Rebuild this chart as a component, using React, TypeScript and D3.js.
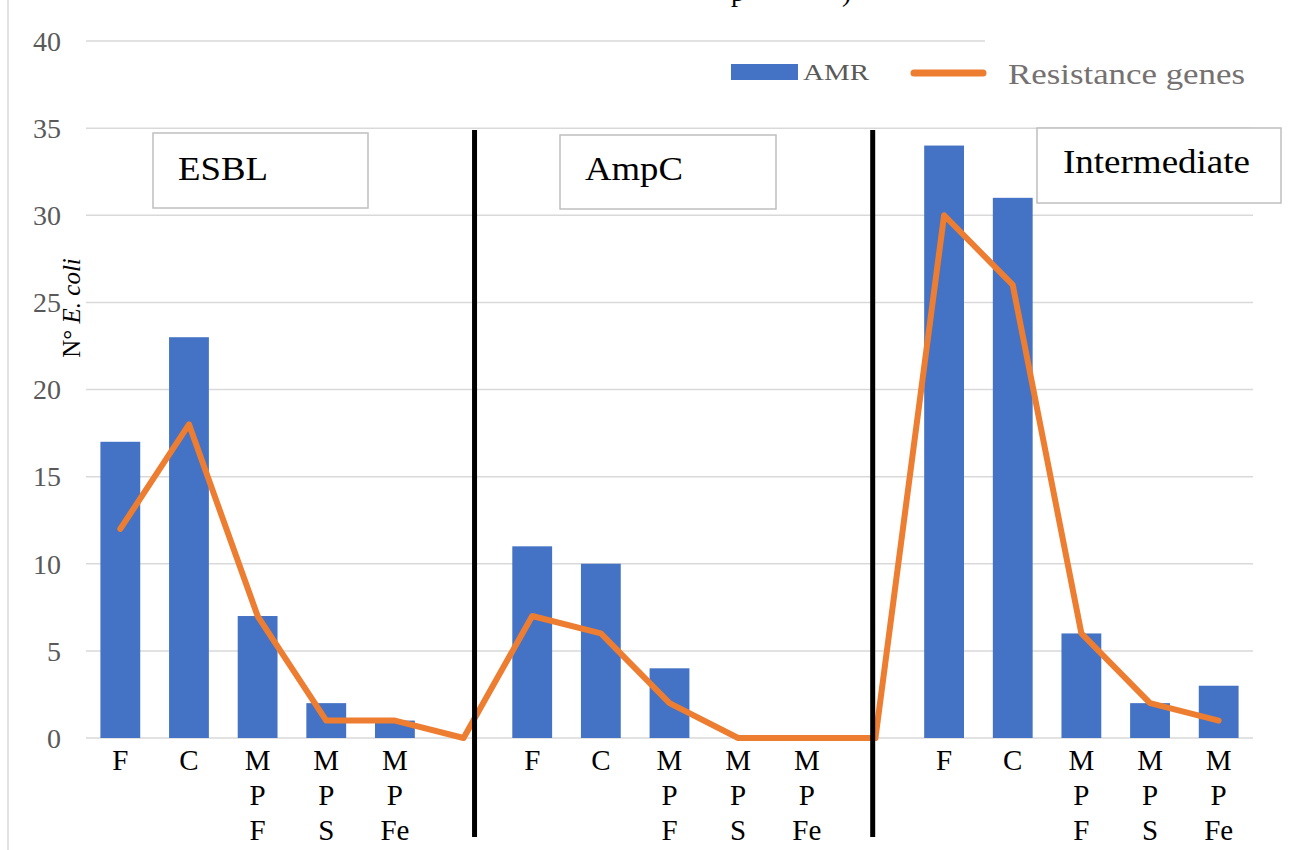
import React from "react";
import * as d3 from "d3";

// Category slots: three groups of five, separated by an empty slot
const groups = ["ESBL", "AmpC", "Intermediate"];
const slotLabels: string[][] = [
  ["F"], ["C"], ["M", "P", "F"], ["M", "P", "S"], ["M", "P", "Fe"], [],
  ["F"], ["C"], ["M", "P", "F"], ["M", "P", "S"], ["M", "P", "Fe"], [],
  ["F"], ["C"], ["M", "P", "F"], ["M", "P", "S"], ["M", "P", "Fe"],
];
const amrValues: (number | null)[] = [17, 23, 7, 2, 1, null, 11, 10, 4, 0, 0, null, 34, 31, 6, 2, 3];
const geneValues: number[] = [12, 18, 7, 1, 1, 0, 7, 6, 2, 0, 0, 0, 30, 26, 6, 2, 1];
const yTicks = [0, 5, 10, 15, 20, 25, 30, 35, 40];
const separatorSlots = [5, 11];

const W = 1291;
const H = 850;
const BLUE = "#4472C4";
const ORANGE = "#ED7D31";
const GRID = "#d9d9d9";
const SERIF = "Liberation Serif, DejaVu Serif, serif";
const font = { fontFamily: SERIF };

export default function App() {
  const slots = d3.range(slotLabels.length).map(String);
  const x = d3.scaleBand<string>().domain(slots).range([86, 1253]).paddingInner(0.42).paddingOuter(0.21);
  const y = d3.scaleLinear().domain([0, 40]).range([738, 41]);
  const cx = (i: number) => (x(String(i)) as number) + x.bandwidth() / 2;
  const step = x.step();

  const line = d3
    .line<number>()
    .x((_, i) => cx(i))
    .y((d) => y(d));

  // separator positions relative to the empty slots
  const sepX = [cx(separatorSlots[0]) + step * 0.16, cx(separatorSlots[1]) - step * 0.04];

  const boxes = [
    { label: groups[0], x0: 153, y0: 133, w: 215, h: 75, tx: 178, ty: 180, tl: 90 },
    { label: groups[1], x0: 560, y0: 135, w: 216, h: 74, tx: 585, ty: 180, tl: 98 },
    { label: groups[2], x0: 1037, y0: 128, w: 244, h: 75, tx: 1063, ty: 173, tl: 187 },
  ];

  return (
    <svg
      width={W}
      height={H}
      style={{ position: "absolute", left: 0, top: 0, background: "#fff", fontFamily: SERIF }}
    >
      <rect x={0} y={0} width={W} height={H} fill="#fff" />
      <line x1={8} x2={8} y1={0} y2={H} stroke={GRID} strokeWidth={1.5} />

      {/* title fragment running off the top edge */}
      <text x={731} y={1} fontSize={28} fill="#000" style={font}>p</text>
      <text x={842} y={1} fontSize={28} fill="#000" style={font}>)</text>

      {/* gridlines and y tick labels */}
      {yTicks.map((t) => (
        <g key={t}>
          <line x1={86} x2={t === 40 ? 985 : 1253} y1={y(t)} y2={y(t)} stroke={GRID} strokeWidth={1.5} />
          <text x={61} y={y(t)} dy="0.35em" textAnchor="end" fontSize={28} fill="#595959" style={font}>
            {t}
          </text>
        </g>
      ))}

      {/* y axis title */}
      <text
        transform={`translate(80,${308}) rotate(-90)`}
        textAnchor="middle"
        fontSize={25}
        fill="#000"
        style={font}
      >
        N° <tspan fontStyle="italic">E. coli</tspan>
      </text>

      {/* AMR bars */}
      {amrValues.map((v, i) =>
        v === null ? null : (
          <rect
            key={i}
            x={x(String(i))}
            y={y(v)}
            width={x.bandwidth()}
            height={y(0) - y(v)}
            fill={BLUE}
          />
        )
      )}

      {/* resistance genes line */}
      <path
        d={line(geneValues) || ""}
        fill="none"
        stroke={ORANGE}
        strokeWidth={6}
        strokeLinejoin="round"
        strokeLinecap="round"
      />

      {/* group separators */}
      {sepX.map((sx, i) => (
        <line key={i} x1={sx} x2={sx} y1={130} y2={837} stroke="#000" strokeWidth={5} />
      ))}

      {/* group label boxes */}
      {boxes.map((b) => (
        <g key={b.label}>
          <rect x={b.x0} y={b.y0} width={b.w} height={b.h} fill="#fff" stroke="#bfbfbf" strokeWidth={1.5} />
          <text
            x={b.tx}
            y={b.ty}
            fontSize={34}
            fill="#000"
            textLength={b.tl}
            lengthAdjust="spacingAndGlyphs"
            style={font}
          >
            {b.label}
          </text>
        </g>
      ))}

      {/* category labels */}
      {slotLabels.map((lines, i) =>
        lines.map((s, j) => (
          <text
            key={`${i}-${j}`}
            x={cx(i)}
            y={770 + j * 35}
            textAnchor="middle"
            fontSize={29}
            fill="#000"
            style={font}
          >
            {s}
          </text>
        ))
      )}

      {/* legend */}
      <g>
        <rect x={731} y={64} width={67} height={16} fill={BLUE} />
        <text x={803} y={80} fontSize={23} fill="#595959" textLength={66} lengthAdjust="spacingAndGlyphs" style={font}>
          AMR
        </text>
        <line x1={914} x2={983} y1={73} y2={73} stroke={ORANGE} strokeWidth={7} strokeLinecap="round" />
        <text x={1008} y={84} fontSize={30} fill="#767171" textLength={237} lengthAdjust="spacingAndGlyphs" style={font}>
          Resistance genes
        </text>
      </g>
    </svg>
  );
}
